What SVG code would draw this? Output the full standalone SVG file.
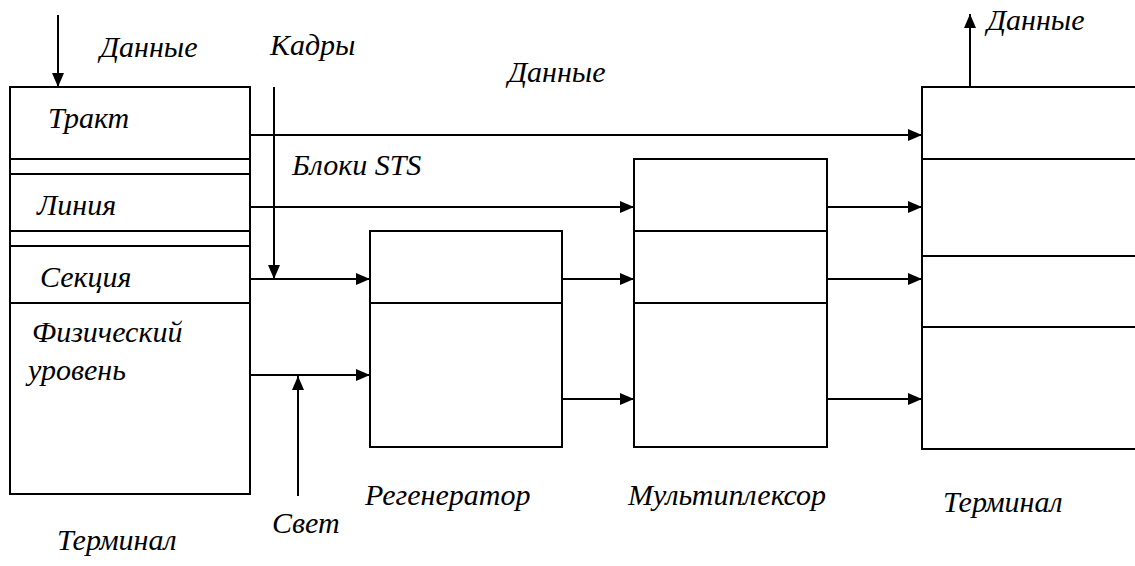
<svg xmlns="http://www.w3.org/2000/svg" width="1135" height="566" viewBox="0 0 1135 566">
<defs>
<marker id="ah" viewBox="0 0 14 12" refX="14" refY="6" markerWidth="14" markerHeight="12" markerUnits="userSpaceOnUse" orient="auto">
<path d="M0,0 L14,6 L0,12 Z" fill="#000"/>
</marker>
<style>
.box{fill:#fff;stroke:#000;stroke-width:2}
.ln{stroke:#000;stroke-width:2;fill:none}
.ar{stroke:#000;stroke-width:2;fill:none;marker-end:url(#ah)}
.t{font-family:"Liberation Serif","Times New Roman",serif;font-style:italic;font-size:30px;fill:#000;stroke:none}
</style>
</defs>
<rect width="1135" height="566" fill="#fff"/>
<g id="terminal-left">
<rect class="box" x="10" y="87" width="240" height="407"/>
<line class="ln" x1="10" y1="159" x2="250" y2="159"/>
<line class="ln" x1="10" y1="174" x2="250" y2="174"/>
<line class="ln" x1="10" y1="231" x2="250" y2="231"/>
<line class="ln" x1="10" y1="246" x2="250" y2="246"/>
<line class="ln" x1="10" y1="303" x2="250" y2="303"/>
<text class="t" x="48" y="128">Тракт</text>
<text class="t" x="37" y="215">Линия</text>
<text class="t" x="40" y="287">Секция</text>
<text class="t" x="32" y="342">Физический</text>
<text class="t" x="28" y="380">уровень</text>
<text class="t" x="57" y="550">Терминал</text>
</g>
<g id="regenerator">
<rect class="box" x="370" y="231" width="192" height="216"/>
<line class="ln" x1="370" y1="303" x2="562" y2="303"/>
<text class="t" x="365" y="505">Регенератор</text>
</g>
<g id="multiplexer">
<rect class="box" x="634" y="159" width="193" height="288"/>
<line class="ln" x1="634" y1="231" x2="827" y2="231"/>
<line class="ln" x1="634" y1="303" x2="827" y2="303"/>
<text class="t" x="628" y="505">Мультиплексор</text>
</g>
<g id="terminal-right">
<path class="ln" d="M1140,87 H922 V449 H1140"/>
<line class="ln" x1="922" y1="159" x2="1135" y2="159"/>
<line class="ln" x1="922" y1="256" x2="1135" y2="256"/>
<line class="ln" x1="922" y1="327" x2="1135" y2="327"/>
<text class="t" x="943" y="512">Терминал</text>
</g>
<g id="connectors">
<line class="ar" x1="58" y1="15" x2="58" y2="87"/>
<line class="ar" x1="274" y1="87" x2="274" y2="279"/>
<line class="ar" x1="250" y1="135" x2="922" y2="135"/>
<line class="ar" x1="250" y1="207" x2="634" y2="207"/>
<line class="ar" x1="250" y1="279" x2="370" y2="279"/>
<line class="ar" x1="250" y1="375" x2="370" y2="375"/>
<line class="ar" x1="298" y1="496" x2="298" y2="376"/>
<line class="ar" x1="562" y1="279" x2="634" y2="279"/>
<line class="ar" x1="562" y1="399" x2="634" y2="399"/>
<line class="ar" x1="827" y1="207" x2="922" y2="207"/>
<line class="ar" x1="827" y1="279" x2="922" y2="279"/>
<line class="ar" x1="827" y1="399" x2="922" y2="399"/>
<line class="ar" x1="970" y1="87" x2="970" y2="14"/>
</g>
<g id="labels">
<text class="t" x="100" y="57">Данные</text>
<text class="t" x="270" y="55">Кадры</text>
<text class="t" x="508" y="82">Данные</text>
<text class="t" x="292" y="175">Блоки STS</text>
<text class="t" x="272" y="533">Свет</text>
<text class="t" x="987" y="30">Данные</text>
</g>
</svg>
